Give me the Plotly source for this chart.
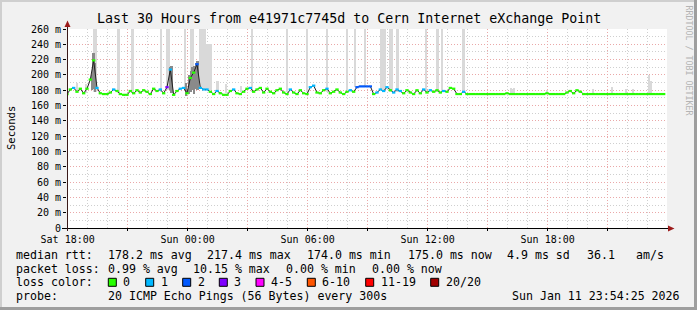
import plotly.graph_objects as go
import pandas as pd

# ------------------------------------------------------------------ data
start_time = "2026-01-10 17:58"
span_hours = 30
step_minutes = 10

median_ms = [175, 181, 183, 178, 182, 176, 182, 194, 219, 183,
             176, 175, 175, 177, 181, 179, 175, 174, 174, 179,
             176, 180, 177, 180, 178, 175, 182, 179, 181, 176,
             184, 207, 174, 179, 182, 183, 176, 196, 203, 214,
             183, 181, 181, 178, 175, 179, 176, 174, 174, 179,
             181, 176, 175, 178, 182, 183, 178, 181, 183, 177,
             182, 178, 176, 180, 182, 177, 175, 181, 177, 175,
             180, 176, 175, 184, 186, 177, 176, 180, 182, 176,
             178, 181, 177, 175, 178, 180, 178, 184, 185, 185,
             185, 185, 175, 177, 181, 179, 184, 180, 177, 181,
             179, 176, 180, 177, 175, 180, 176, 181, 177, 180,
             178, 180, 177, 179, 178, 183, 182, 175, 175, 178,
             175, 175, 175, 175, 175, 175, 175, 175, 175, 175,
             175, 175, 176, 175, 175, 175, 175, 175, 175, 175,
             175, 175, 175, 175, 176, 175, 175, 175, 175, 175,
             177, 179, 176, 180, 178, 175, 175, 175, 175, 175,
             175, 175, 175, 175, 175, 175, 175, 175, 175, 175,
             175, 175, 175, 175, 175, 175, 175, 175, 175, 175]

loss_level = [0, 0, 1, 0, 0, 0, 0, 0, 0, 1, 0, 0, 0, 0, 1, 0, 0, 0, 0, 0,
              0, 0, 0, 0, 0, 0, 0, 0, 1, 0, 3, 1, 0, 0, 1, 1, 0, 0, 0, 2,
              1, 1, 1, 0, 0, 1, 0, 0, 0, 0, 1, 0, 0, 0, 0, 1, 0, 0, 0, 0,
              0, 0, 0, 0, 0, 0, 0, 1, 0, 0, 0, 0, 0, 1, 1, 0, 0, 0, 1, 0,
              0, 0, 0, 0, 0, 1, 0, 2, 2, 2, 2, 2, 0, 1, 1, 1, 1, 0, 1, 1,
              1, 0, 0, 0, 0, 0, 0, 1, 0, 1, 0, 0, 0, 1, 0, 0, 0, 0, 0, 1,
              0, 0, 0, 0, 0, 0, 0, 0, 0, 0, 0, 0, 0, 0, 0, 0, 0, 0, 0, 0,
              0, 0, 0, 0, 0, 0, 0, 0, 0, 0, 0, 0, 0, 0, 0, 0, 0, 0, 0, 0,
              0, 0, 0, 0, 0, 0, 0, 0, 0, 0, 0, 0, 0, 0, 0, 0, 0, 0, 0, 0]

# light smoke (ping spread), many reaching beyond the top of the scale
smoke_times = ["2026-01-10 18:28", "2026-01-10 18:55", "2026-01-10 19:20", "2026-01-10 19:25",
               "2026-01-10 20:33", "2026-01-10 21:15", "2026-01-10 22:40",
               "2026-01-10 23:00", "2026-01-10 23:05", "2026-01-10 23:52",
               "2026-01-11 00:12", "2026-01-11 00:16", "2026-01-11 00:38", "2026-01-11 00:43",
               "2026-01-11 00:48", "2026-01-11 00:53", "2026-01-11 01:00", "2026-01-11 01:05",
               "2026-01-11 01:10", "2026-01-11 01:30", "2026-01-11 01:55", "2026-01-11 02:40",
               "2026-01-11 03:13", "2026-01-11 04:58", "2026-01-11 05:58", "2026-01-11 06:58",
               "2026-01-11 07:58", "2026-01-11 08:22", "2026-01-11 08:52", "2026-01-11 09:40",
               "2026-01-11 09:45", "2026-01-11 09:52", "2026-01-11 10:07", "2026-01-11 10:12",
               "2026-01-11 10:30", "2026-01-11 11:55", "2026-01-11 12:30", "2026-01-11 12:43",
               "2026-01-11 13:48", "2026-01-11 16:10", "2026-01-11 16:15", "2026-01-11 16:20",
               "2026-01-11 17:59", "2026-01-11 20:16", "2026-01-11 21:14", "2026-01-11 21:56",
               "2026-01-11 22:16", "2026-01-11 23:04", "2026-01-11 23:09"]
smoke_low = [177, 177, 178, 178, 176, 176, 178, 180, 180, 182,
             190, 190, 182, 182, 182, 182, 180, 180, 180, 178,
             176, 178, 178, 178, 178, 178, 180, 184, 184, 180,
             180, 180, 178, 178, 178, 178, 178, 178, 176, 175,
             175, 175, 175, 175, 175, 175, 175, 175, 175]
smoke_high = [190, 188, 300, 300, 300, 300, 300, 300, 300, 300,
              300, 300, 300, 300, 300, 300, 240, 240, 240, 192,
              188, 186, 300, 300, 300, 300, 300, 300, 300, 300,
              300, 300, 300, 300, 300, 300, 300, 300, 300, 183,
              182, 183, 180, 181, 184, 181, 181, 200, 192]

# darker smoke core around the latency spikes
core_times = ["2026-01-10 19:13", "2026-01-10 19:18", "2026-01-10 19:23",
              "2026-01-10 23:07", "2026-01-10 23:12",
              "2026-01-10 23:55", "2026-01-11 00:05", "2026-01-11 00:10", "2026-01-11 00:15",
              "2026-01-11 00:20", "2026-01-11 00:25", "2026-01-11 00:30"]
core_low = [180, 182, 178, 180, 176, 172, 175, 178, 180, 175, 182, 180]
core_high = [200, 228, 215, 210, 212, 190, 200, 205, 210, 212, 215, 218]

y_tick_values = [0, 20, 40, 60, 80, 100, 120, 140, 160, 180, 200, 220, 240, 260]
y_tick_labels = ["0", "20 m", "40 m", "60 m", "80 m", "100 m", "120 m", "140 m",
                 "160 m", "180 m", "200 m", "220 m", "240 m", "260 m"]
x_tick_times = ["2026-01-10 18:00", "2026-01-10 21:00", "2026-01-11 00:00", "2026-01-11 03:00",
                "2026-01-11 06:00", "2026-01-11 09:00", "2026-01-11 12:00", "2026-01-11 15:00",
                "2026-01-11 18:00", "2026-01-11 21:00"]
x_tick_labels = ["Sat 18:00", "", "Sun 00:00", "", "Sun 06:00", "", "Sun 12:00", "",
                 "Sun 18:00", ""]

loss_labels = ["0", "1", "2", "3", "4-5", "6-10", "11-19", "20/20"]
loss_colors = ["#26ff00", "#00b8ff", "#0059ff", "#7e00ff", "#ff00ff", "#ff5500", "#ff0000", "#a10000"]

title_text = "Last 30 Hours from e41971c7745d to Cern Internet eXchange Point"
rtt_stats = ["178.2 ms avg", "217.4 ms max", "174.0 ms min", "175.0 ms now", "4.9 ms sd", "36.1", "am/s"]
loss_stats = ["0.99 % avg", "10.15 % max", "0.00 % min", "0.00 % now"]
probe_text = "20 ICMP Echo Pings (56 Bytes) every 300s"
stamp_text = "Sun Jan 11 23:54:25 2026"

# ------------------------------------------------------------------ figure
W, H = 697, 310
L, R, T, B = 67, 30, 29, 82
PW, PH = W - L - R, H - T - B


def px(x):
    return (x - L) / PW


def py(y):
    return (H - B - y) / PH


MONO = "DejaVu Sans Mono"
t0 = pd.Timestamp(start_time)
t_end = t0 + pd.Timedelta(hours=span_hours)
times = [t0 + pd.Timedelta(minutes=step_minutes * i) for i in range(len(median_ms))]
half = pd.Timedelta(minutes=step_minutes / 2)
bar_w = 5 * 60 * 1000

fig = go.Figure()

fig.add_trace(go.Bar(x=pd.to_datetime(smoke_times), y=[h - l for h, l in zip(smoke_high, smoke_low)],
                     base=smoke_low, width=bar_w, marker=dict(color="#d9d9d9", line=dict(width=0)),
                     hoverinfo="skip"))
fig.add_trace(go.Bar(x=pd.to_datetime(core_times), y=[h - l for h, l in zip(core_high, core_low)],
                     base=core_low, width=bar_w, marker=dict(color="#8a8a8a", line=dict(width=0)),
                     hoverinfo="skip"))

fig.add_trace(go.Scatter(x=times, y=median_ms, mode="lines",
                         line=dict(color="#202020", width=1), hoverinfo="skip"))

for lvl, col in enumerate(loss_colors):
    xs, ys = [], []
    for t, v, l in zip(times, median_ms, loss_level):
        if l == lvl:
            xs += [t - half, t + half, None]
            ys += [v, v, None]
    if xs:
        fig.add_trace(go.Scatter(x=xs, y=ys, mode="lines", line=dict(color=col, width=2.2),
                                 hoverinfo="skip"))

grid_minor = "#cfcfcf"
grid_major = "#eaa8a8"
DOT = "1px,2px"
fig.update_layout(
    width=W, height=H, margin=dict(l=L, r=R, t=T, b=B, pad=0),
    paper_bgcolor="#f1f1f1", plot_bgcolor="#ffffff",
    showlegend=False, barmode="overlay", bargap=0,
    xaxis=dict(range=[t0, t_end], type="date", tickmode="array",
               tickvals=pd.to_datetime(x_tick_times), ticktext=x_tick_labels,
               showgrid=True, gridcolor=grid_major, griddash=DOT, gridwidth=1,
               minor=dict(tickmode="linear", tick0="2026-01-10 18:00", dtick=3600000,
                          showgrid=True, gridcolor=grid_minor, griddash=DOT, gridwidth=1,
                          ticks=""),
               ticks="outside", ticklen=2, tickcolor="#000000",
               tickfont=dict(family=MONO, size=10, color="#000000"),
               zeroline=False, showline=False, fixedrange=True),
    yaxis=dict(range=[0, 260], tickmode="array", tickvals=y_tick_values, ticktext=y_tick_labels,
               showgrid=True, gridcolor=grid_major, griddash=DOT, gridwidth=1,
               minor=dict(tickmode="linear", tick0=0, dtick=10, showgrid=True,
                          gridcolor=grid_minor, griddash=DOT, gridwidth=1, ticks=""),
               ticks="outside", ticklen=3, tickcolor="#000000",
               tickfont=dict(family=MONO, size=10, color="#000000"),
               zeroline=False, showline=False, fixedrange=True),
)

shapes = []
# frame shading
shapes.append(dict(type="rect", xref="paper", yref="paper", x0=px(0), x1=px(W), y0=py(0), y1=py(2),
                   fillcolor="#cfcfcf", line=dict(width=0), layer="below"))
shapes.append(dict(type="rect", xref="paper", yref="paper", x0=px(0), x1=px(2), y0=py(H), y1=py(0),
                   fillcolor="#cfcfcf", line=dict(width=0), layer="below"))
shapes.append(dict(type="rect", xref="paper", yref="paper", x0=px(W - 3), x1=px(W), y0=py(H), y1=py(0),
                   fillcolor="#9e9e9e", line=dict(width=0)))
shapes.append(dict(type="rect", xref="paper", yref="paper", x0=px(0), x1=px(W), y0=py(H), y1=py(H - 3),
                   fillcolor="#9e9e9e", line=dict(width=0)))
# axes
shapes.append(dict(type="line", xref="paper", yref="paper", x0=px(62), x1=px(671), y0=py(228.5), y1=py(228.5),
                   line=dict(color="#000000", width=1)))
shapes.append(dict(type="line", xref="paper", yref="paper", x0=px(67.5), x1=px(67.5), y0=py(231), y1=py(25),
                   line=dict(color="#3a1a1a", width=1)))
arrow_col = "#9c1b1b"
shapes.append(dict(type="path", xref="paper", yref="paper",
                   path=f"M {px(67.5)},{py(20.5)} L {px(64.5)},{py(27)} L {px(70.5)},{py(27)} Z",
                   fillcolor=arrow_col, line=dict(width=0)))
shapes.append(dict(type="path", xref="paper", yref="paper",
                   path=f"M {px(674.5)},{py(228.5)} L {px(668)},{py(225.5)} L {px(668)},{py(231.5)} Z",
                   fillcolor=arrow_col, line=dict(width=0)))

ann = []


def text(x, y, s, size=11.6, anchor="left", color="#000000", angle=0, yanchor="middle"):
    ann.append(dict(x=px(x), y=py(y), xref="paper", yref="paper", text=s, showarrow=False,
                    xanchor=anchor, yanchor=yanchor, textangle=angle, borderpad=0, borderwidth=0,
                    font=dict(family=MONO, size=size, color=color)))


text(348.5, 18, title_text, size=13.3, anchor="center")
text(11, 128, "Seconds", size=10.5, anchor="center", angle=-90)
text(688.5, 60, "RRDTOOL / TOBI OETIKER", size=8.3, anchor="center", angle=90, color="#b4b4b4")

row_y = [255, 268.5, 282.3, 296]
text(16, row_y[0], "median rtt:")
for xpos, s in zip([107.7, 207.4, 307.3, 408, 506.7, 586.7, 635.7], rtt_stats):
    text(xpos, row_y[0], s)
text(16, row_y[1], "packet loss:")
for xpos, s in zip([107.7, 193.4, 286.1, 371.8], loss_stats):
    text(xpos, row_y[1], s)
text(16, row_y[2], "loss color:")
box_x = [108.3, 145.7, 182.7, 219.3, 256, 307.3, 365.7, 430.7]
for bx, lab, col in zip(box_x, loss_labels, loss_colors):
    shapes.append(dict(type="rect", xref="paper", yref="paper", x0=px(bx), x1=px(bx + 8),
                       y0=py(row_y[2] + 4), y1=py(row_y[2] - 4), fillcolor=col,
                       line=dict(color="#000000", width=1)))
    text(bx + 15, row_y[2], lab)
text(16, row_y[3], "probe:")
text(107.7, row_y[3], probe_text)
text(680, row_y[3], stamp_text, anchor="right")

fig.update_layout(shapes=shapes, annotations=ann)
fig.write_html("out.html")
